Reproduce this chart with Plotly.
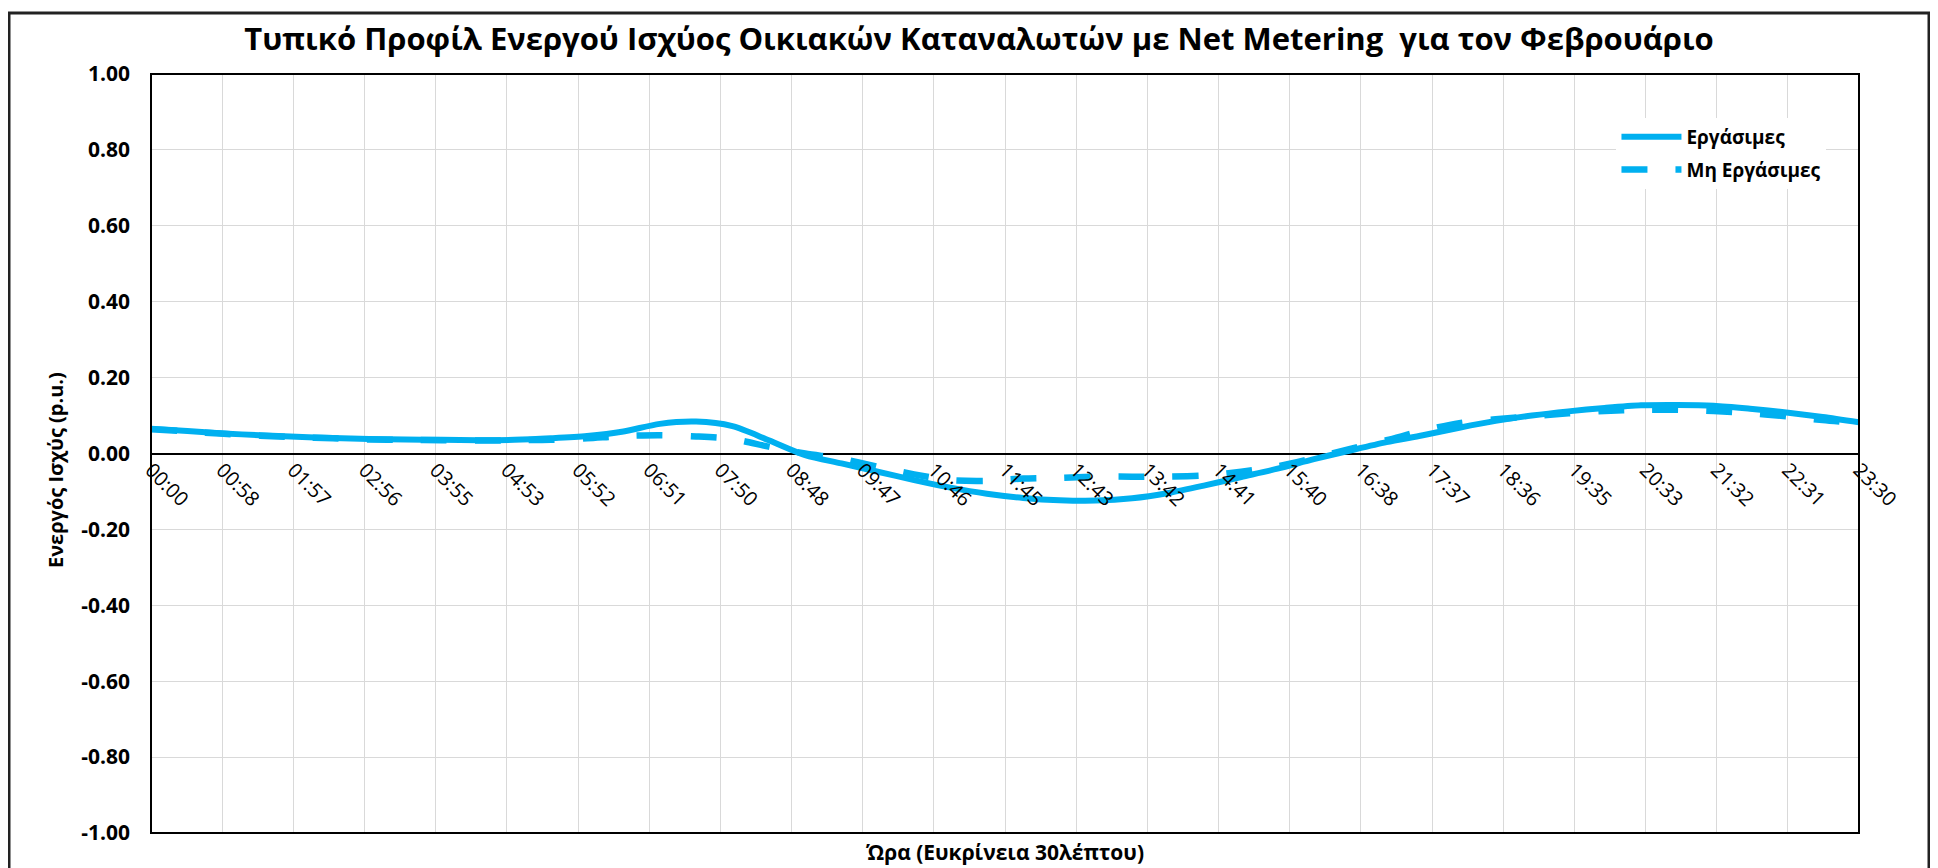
import plotly.graph_objects as go

# 30-minute time steps (minutes after midnight)
minutes = [i * 30 for i in range(48)]

workdays = [0.065, 0.059, 0.053, 0.048, 0.044, 0.041, 0.038, 0.037, 0.036, 0.035,
            0.036, 0.040, 0.046, 0.058, 0.078, 0.084, 0.072, 0.035, -0.004, -0.026,
            -0.048, -0.070, -0.090, -0.106, -0.117, -0.123, -0.124, -0.118, -0.104, -0.084,
            -0.062, -0.040, -0.015, 0.008, 0.030, 0.048, 0.068, 0.086, 0.100, 0.111,
            0.120, 0.127, 0.128, 0.126, 0.118, 0.108, 0.096, 0.082]

non_workdays = [0.064, 0.058, 0.052, 0.047, 0.043, 0.040, 0.037, 0.036, 0.035, 0.034,
                0.035, 0.036, 0.040, 0.046, 0.048, 0.045, 0.038, 0.018, 0.000, -0.014,
                -0.035, -0.055, -0.070, -0.072, -0.066, -0.064, -0.061, -0.061, -0.061, -0.058,
                -0.048, -0.034, -0.012, 0.012, 0.035, 0.060, 0.080, 0.090, 0.098, 0.106,
                0.112, 0.115, 0.115, 0.112, 0.106, 0.098, 0.088, 0.080]

tick_labels = ["00:00", "00:58", "01:57", "02:56", "03:55", "04:53", "05:52", "06:51",
               "07:50", "08:48", "09:47", "10:46", "11:45", "12:43", "13:42", "14:41",
               "15:40", "16:38", "17:37", "18:36", "19:35", "20:33", "21:32", "22:31", "23:30"]
tick_positions = [i * 1410 / 24 for i in range(25)]

y_ticks = [1.0, 0.8, 0.6, 0.4, 0.2, 0.0, -0.2, -0.4, -0.6, -0.8, -1.0]

COLOR = "#00B0F0"
FONT = "Open Sans"

# page body has an 8px margin: figure is drawn at (8, 8)
W, H = 1930, 860
PL, PT, PW, PH = 143, 66, 1708, 759

fig = go.Figure()
fig.add_trace(go.Scatter(x=minutes, y=workdays, mode="lines", name="Εργάσιμες", legendgroup="a",
                         line=dict(color=COLOR, width=6, shape="spline", smoothing=0.8)))
fig.add_trace(go.Scatter(x=minutes, y=non_workdays, mode="lines", name="Μη Εργάσιμες", legendgroup="b",
                         line=dict(color=COLOR, width=6.5, dash="26px,28px", shape="spline", smoothing=0.8)))

fig.update_layout(
    width=W, height=H,
    margin=dict(l=PL, r=W - PL - PW, t=PT, b=H - PT - PH, autoexpand=False),
    paper_bgcolor="white", plot_bgcolor="white",
    font=dict(family=FONT, color="black"),
    title=dict(text="<b>Τυπικό Προφίλ Ενεργού Ισχύος Οικιακών Καταναλωτών με Net Metering  για τον Φεβρουάριο</b>",
               x=(979 - 8) / W, xref="container", xanchor="center", y=1 - 31 / H, yanchor="middle",
               font=dict(size=31, family=FONT, color="black")),
    legend=dict(x=0.858, y=0.942, xanchor="left", yanchor="top",
                bgcolor="white", font=dict(size=19, family=FONT, color="black", weight="bold"),
                tracegroupgap=5, itemwidth=60),
    xaxis=dict(range=[0, 1410], tickvals=tick_positions, ticktext=tick_labels,
               tickangle=45, showgrid=True, gridcolor="#D9D9D9", gridwidth=1,
               zeroline=False, showline=False, ticks="",
               anchor="free", position=0.5,
               tickfont=dict(size=20, family=FONT, color="black")),
    yaxis=dict(range=[-1, 1], tickvals=y_ticks, ticktext=[f"<b>{v:.2f}</b>" for v in y_ticks],
               showgrid=True, gridcolor="#D9D9D9", gridwidth=1,
               zeroline=True, zerolinecolor="black", zerolinewidth=1.5,
               showline=False, ticks="", ticklabelstandoff=20,
               tickfont=dict(size=21, family=FONT, color="black")),
)

# y-axis title
fig.add_annotation(text="<b>Ενεργός Ισχύς (p.u.)</b>", xref="paper", yref="paper",
                   x=(55 - 8 - PL) / PW, y=(PT + PH - (470 - 8)) / PH, textangle=-90,
                   xanchor="center", yanchor="middle", showarrow=False,
                   font=dict(size=20, family=FONT, color="black"))

# x-axis title at the bottom (the axis itself sits on the zero line)
fig.add_annotation(text="<b>Ώρα (Ευκρίνεια 30λέπτου)</b>", xref="paper", yref="paper",
                   x=0.5, y=-19 / PH, xanchor="center", yanchor="middle", showarrow=False,
                   font=dict(size=21, family=FONT, color="black"))

# plot-area frame
fig.add_shape(type="rect", xref="paper", yref="paper", x0=0, x1=1, y0=0, y1=1,
              line=dict(color="black", width=2), layer="above")
# outer chart frame
fig.add_shape(type="rect", xref="paper", yref="paper",
              x0=(1 - PL) / PW, x1=(1921 - PL) / PW,
              y0=(PT + PH - 866) / PH, y1=(PT + PH - 5) / PH,
              line=dict(color="#222222", width=3), layer="above")

fig.write_html("out.html")
